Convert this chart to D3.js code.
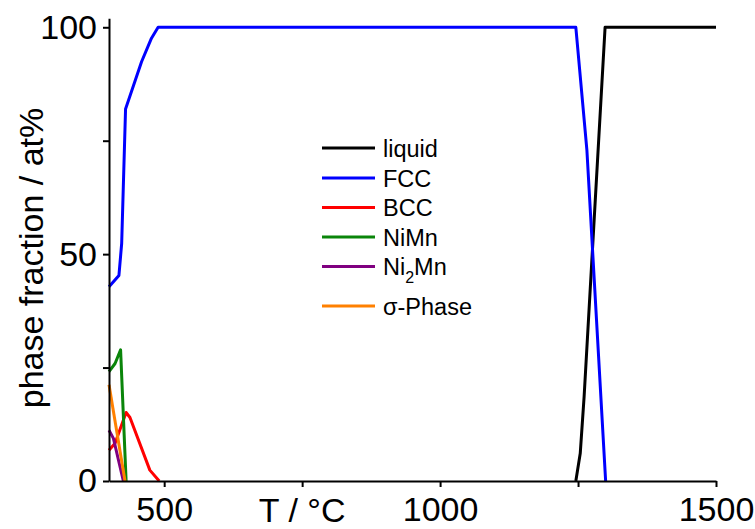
<!DOCTYPE html>
<html>
<head>
<meta charset="utf-8">
<script src="https://cdn.jsdelivr.net/npm/d3@7"></script>
<style>
  html, body { margin: 0; padding: 0; background: #fff; }
  svg { display: block; font-family: "Liberation Sans", Arial, Helvetica, sans-serif; }
</style>
</head>
<body>
<svg id="chart" width="755" height="529"></svg>
<script>
// Phase fractions (at%) versus temperature (°C)
const liquidT = [1246, 1254, 1261, 1299, 1500];
const liquidV = [0, 6.1, 18.6, 100, 100];

const fccT = [400, 418, 423, 430, 459, 477, 489, 1246, 1266, 1300];
const fccV = [42.8, 45.3, 52.4, 82.0, 92.4, 97.6, 100, 100, 73.0, 0];

const bccT = [400, 411, 431, 438, 474, 491];
const bccV = [6.8, 8.3, 15.1, 14.0, 2.4, 0];

const nimnT = [400, 411, 421, 431];
const nimnV = [24.1, 25.9, 28.9, 0];

const ni2mnT = [400, 408, 426];
const ni2mnV = [11.2, 9.4, 0];

const sigmaT = [400, 429];
const sigmaV = [21.2, 0];

const phaseNames = ["liquid", "FCC", "BCC", "NiMn", "Ni2Mn", "σ-Phase"];
const phaseColors = ["#000000", "#0000ff", "#ff0000", "#0a850a", "#800080", "#ff8000"];
const phaseT = [liquidT, fccT, bccT, nimnT, ni2mnT, sigmaT];
const phaseV = [liquidV, fccV, bccV, nimnV, ni2mnV, sigmaV];

const xTickValues = [500, 750, 1000, 1250, 1500];
const xTickLabels = ["500", "", "1000", "", "1500"];
const yTickValues = [0, 25, 50, 75, 100];
const yTickLabels = ["0", "", "50", "", "100"];

const svg = d3.select("#chart");

const x = d3.scaleLinear().domain([400, 1500]).range([109, 716]);
const y = d3.scaleLinear().domain([0, 102]).range([481, 18.2]);

const line = d3.line().x(d => x(d[0])).y(d => y(d[1]));

// phase curves
const curves = svg.append("g").attr("fill", "none").attr("stroke-width", 3)
  .attr("stroke-linejoin", "round");
phaseNames.forEach((name, i) => {
  const pts = phaseT[i].map((t, j) => [t, phaseV[i][j]]);
  curves.append("path")
    .datum(pts)
    .attr("stroke", phaseColors[i])
    .attr("d", line);
});

// axes
const xAxis = d3.axisBottom(x)
  .tickValues(xTickValues)
  .tickFormat((d, i) => xTickLabels[i])
  .tickSize(6).tickSizeOuter(0).tickPadding(10);
const yAxis = d3.axisLeft(y)
  .tickValues(yTickValues)
  .tickFormat((d, i) => yTickLabels[i])
  .tickSize(6).tickSizeOuter(0).tickPadding(6);

const gx = svg.append("g").attr("transform", "translate(0,481)").call(xAxis);
const gy = svg.append("g").attr("transform", "translate(109,0)").call(yAxis);

[gx, gy].forEach(g => {
  g.selectAll("path, line").attr("stroke", "#000").attr("stroke-width", 2);
  g.selectAll("text").attr("font-size", 34).attr("fill", "#000")
    .attr("font-family", "'Liberation Sans', Arial, sans-serif");
});

// axis titles
svg.append("text")
  .attr("x", x(750)).attr("y", 522)
  .attr("text-anchor", "middle")
  .attr("font-size", 34)
  .text("T / °C");

svg.append("text")
  .attr("transform", "translate(43,258) rotate(-90)")
  .attr("text-anchor", "middle")
  .attr("font-size", 34)
  .text("phase fraction / at%");

// legend
const legendY = [148, 178, 207.5, 237, 266.5, 306];
const legend = svg.append("g");
phaseNames.forEach((name, i) => {
  legend.append("line")
    .attr("x1", 322).attr("x2", 375)
    .attr("y1", legendY[i]).attr("y2", legendY[i])
    .attr("stroke", phaseColors[i]).attr("stroke-width", 3);
  const t = legend.append("text")
    .attr("x", 383).attr("y", legendY[i] + 8.5)
    .attr("font-size", 23.5);
  if (name === "Ni2Mn") {
    t.append("tspan").text("Ni");
    t.append("tspan").attr("dy", 8).attr("font-size", 16).text("2");
    t.append("tspan").attr("dy", -8).text("Mn");
  } else {
    t.text(name);
  }
});
</script>
</body>
</html>
